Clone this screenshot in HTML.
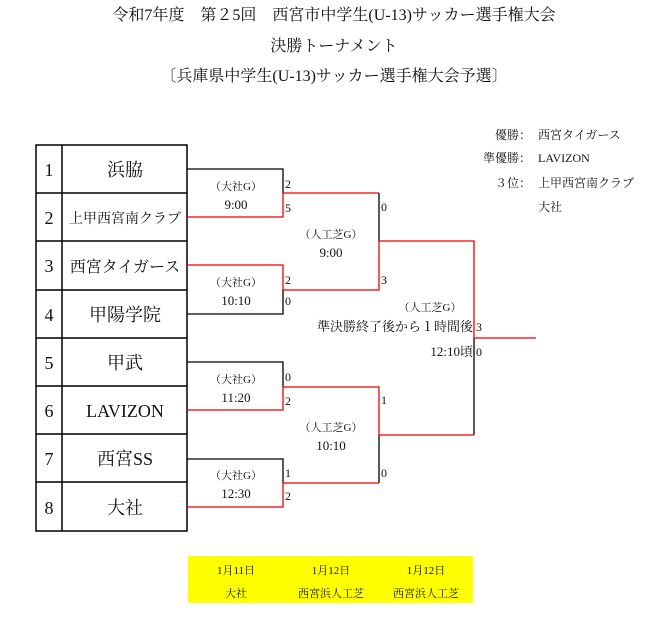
<!DOCTYPE html>
<html><head><meta charset="utf-8"><style>
body{margin:0;background:#fff}
svg{display:block}
text{font-family:"Liberation Serif","Noto Serif CJK SC",serif;fill:#111}
</style></head><body>
<svg width="672" height="627" viewBox="0 0 672 627" xmlns="http://www.w3.org/2000/svg">
<g text-anchor="middle" font-size="16">
<text x="334" y="20">令和7年度　第２5回　西宮市中学生(U-13)サッカー選手権大会</text>
<text x="334" y="51">決勝トーナメント</text>
<text x="334" y="81">〔兵庫県中学生(U-13)サッカー選手権大会予選〕</text>
</g>
<!-- table -->
<g stroke="#000" stroke-width="1.5" fill="none">
<rect x="36" y="145" width="151" height="386"/>
<line x1="62" y1="145" x2="62" y2="531"/>
<line x1="36" y1="193" x2="187" y2="193"/>
<line x1="36" y1="241" x2="187" y2="241"/>
<line x1="36" y1="290" x2="187" y2="290"/>
<line x1="36" y1="338" x2="187" y2="338"/>
<line x1="36" y1="386" x2="187" y2="386"/>
<line x1="36" y1="434" x2="187" y2="434"/>
<line x1="36" y1="482" x2="187" y2="482"/>
</g>
<g font-size="18" text-anchor="middle">
<text x="49" y="176">1</text><text x="49" y="224">2</text><text x="49" y="272">3</text><text x="49" y="321">4</text>
<text x="49" y="369">5</text><text x="49" y="417">6</text><text x="49" y="465">7</text><text x="49" y="514">8</text>
<text x="125" y="176">浜脇</text>
<text x="125" y="223" font-size="14">上甲西宮南クラブ</text>
<text x="125" y="272" font-size="16">西宮タイガース</text>
<text x="125" y="321">甲陽学院</text>
<text x="125" y="369">甲武</text>
<text x="125" y="417">LAVIZON</text>
<text x="125" y="465">西宮SS</text>
<text x="125" y="514">大社</text>
</g>
<!-- bracket black -->
<g stroke="#000" stroke-width="1.3" fill="none">
<polyline points="187,169 283,169 283,193"/>
<polyline points="187,314 283,314 283,290"/>
<polyline points="187,362 283,362 283,387"/>
<polyline points="187,459 283,459 283,483"/>
<polyline points="379,193 379,241"/>
<polyline points="379,435 379,483"/>
<polyline points="474,338 474,435"/>
</g>
<g stroke="#e00" stroke-width="1.3" fill="none">
<polyline points="187,217 283,217 283,193 379,193"/>
<polyline points="187,265 283,265 283,290 379,290 379,241 474,241 474,338 536,338"/>
<polyline points="187,410 283,410 283,387 379,387 379,435 474,435"/>
<polyline points="187,507 283,507 283,483 379,483"/>
</g>
<g text-anchor="middle">
<text x="236" y="190" font-size="11">（大社G）</text><text x="236" y="209" font-size="13">9:00</text>
<text x="236" y="286" font-size="11">（大社G）</text><text x="236" y="305" font-size="13">10:10</text>
<text x="236" y="383" font-size="11">（大社G）</text><text x="236" y="402" font-size="13">11:20</text>
<text x="236" y="479" font-size="11">（大社G）</text><text x="236" y="498" font-size="13">12:30</text>
<text x="331" y="238" font-size="11">（人工芝G）</text><text x="331" y="257" font-size="13">9:00</text>
<text x="331" y="431" font-size="11">（人工芝G）</text><text x="331" y="450" font-size="13">10:10</text>
<text x="430" y="311" font-size="11">（人工芝G）</text>
</g>
<g text-anchor="end" font-size="13">
<text x="473" y="331">準決勝終了後から１時間後</text>
<text x="473" y="356">12:10頃</text>
</g>
<g font-size="12">
<text x="285" y="188">2</text><text x="285" y="212">5</text>
<text x="285" y="284">2</text><text x="285" y="305">0</text>
<text x="285" y="381">0</text><text x="285" y="405">2</text>
<text x="285" y="477">1</text><text x="285" y="500">2</text>
<text x="381" y="211">0</text><text x="381" y="284">3</text>
<text x="381" y="404">1</text><text x="381" y="477">0</text>
<text x="476" y="331">3</text><text x="476" y="356">0</text>
</g>
<g font-size="12">
<text x="531" y="139" text-anchor="end">優勝：</text><text x="538" y="139">西宮タイガース</text>
<text x="531" y="162" text-anchor="end">準優勝：</text><text x="538" y="162">LAVIZON</text>
<text x="531" y="187" text-anchor="end">３位：</text><text x="538" y="187">上甲西宮南クラブ</text>
<text x="538" y="211">大社</text>
</g>
<rect x="188" y="556" width="285" height="47" fill="#ffff00"/>
<g text-anchor="middle" font-size="11">
<text x="236" y="574">1月11日</text><text x="331" y="574">1月12日</text><text x="426" y="574">1月12日</text>
<text x="236" y="597">大社</text><text x="331" y="597">西宮浜人工芝</text><text x="426" y="597">西宮浜人工芝</text>
</g>
</svg>
</body></html>
